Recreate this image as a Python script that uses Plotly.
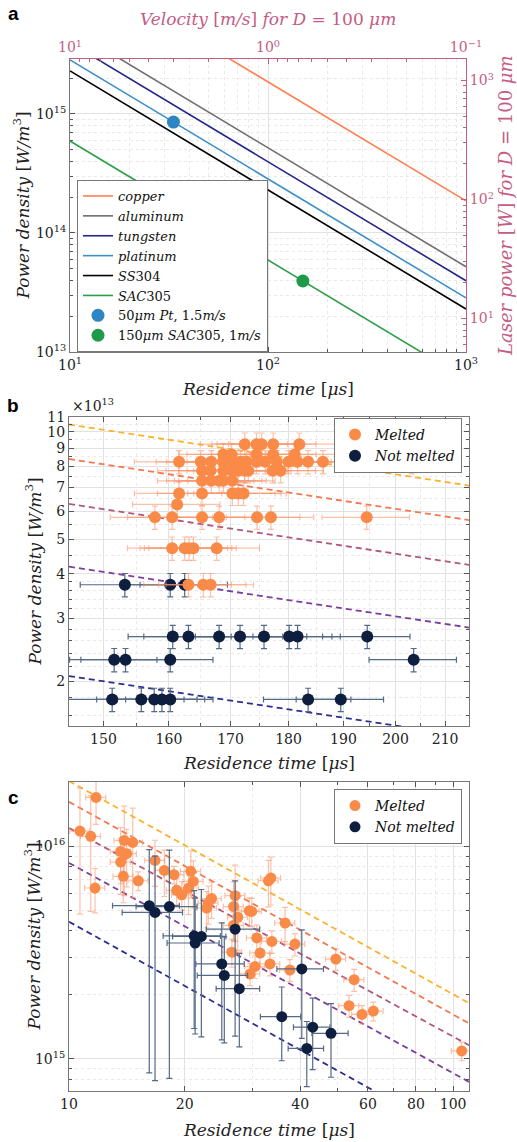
import plotly.graph_objects as go

W, H = 517, 1142

# ---------------- Panel a data ----------------
a_labels = ["<i>copper</i>", "<i>aluminum</i>", "<i>tungsten</i>", "<i>platinum</i>",
            "<i>SS</i>304", "<i>SAC</i>305"]
a_colors = ["#FF7F50", "#6E6E6E", "#25258C", "#3B8FCB", "#000000", "#2E9E4B"]
a_t_ends = [10, 1000]                      # residence time [us]
a_pd_copper = [1.86e16, 1.86e14]
a_pd_aluminum = [5.2e15, 5.2e13]
a_pd_tungsten = [3.97e15, 3.97e13]
a_pd_platinum = [2.85e15, 2.85e13]
a_pd_ss304 = [2.30e15, 2.30e13]
a_pd_sac305 = [5.93e14, 5.93e12]
a_pd_lines = [a_pd_copper, a_pd_aluminum, a_pd_tungsten, a_pd_platinum, a_pd_ss304, a_pd_sac305]
a_pt_t, a_pt_pd = [33.3], [8.55e14]
a_sac_t, a_sac_pd = [150], [3.95e13]

# ---------------- Panel b data ----------------
b_line_t = [145, 215]
b_line_pd = [[10.48e13, 7.07e13], [8.39e13, 5.66e13], [6.28e13, 4.24e13],
             [4.19e13, 2.83e13], [2.07e13, 1.40e13]]
line_colors = ["#FDB22C", "#F4784F", "#B0577D", "#7B3E9B", "#2B2F90"]

b_melt_t = [172.4, 174.4, 175.3, 177.3, 181.9,
            168.8, 170.2, 174.4, 177.3, 181.1,
            161.6, 165.1, 166.8, 168.7, 170.2, 171.7, 172.7, 174.4, 175.9, 177.9, 180.0, 181.6, 183.5, 186.2, 203.2,
            165.3, 166.7, 168.8, 170.2, 171.3, 172.4, 173.0, 177.2, 178.6,
            165.3, 166.8, 168.1, 168.8, 170.3,
            161.6, 165.3, 170.3, 171.3, 172.2,
            161.3,
            157.8, 160.5, 165.3, 168.1, 174.5, 176.9, 194.4,
            160.5, 162.5, 163.2, 163.9, 167.7,
            163.1, 165.5, 166.7]
b_melt_pd = [9.23e13] * 5 + [8.64e13] * 5 + [8.24e13] * 15 + [7.78e13] * 9 + [7.29e13] * 5 + \
            [6.72e13] * 5 + [6.26e13] + [5.76e13] * 7 + [4.72e13] * 5 + [3.73e13] * 3
b_not_t = [153.2, 160.2, 162.5,
           160.6, 163.1, 168.1, 171.6, 175.7, 180.1, 181.6, 194.5,
           151.6, 153.3, 160.2, 203.6,
           151.3, 155.7, 157.7, 158.9, 160.2, 183.5, 189.5]
b_not_pd = [3.73e13] * 3 + [2.67e13] * 8 + [2.30e13] * 4 + [1.78e13] * 7

# ---------------- Panel c data ----------------
c_line_t = [10, 110]
c_line_pd = [[2.03e16, 1.83e15], [1.62e16, 1.47e15], [1.22e16, 1.16e15],
             [8.36e15, 7.8e14], [4.42e15, 4.0e14]]

c_melt_t = [11.76, 10.68, 11.39, 11.69, 13.93, 14.65, 13.63, 14.13, 13.63, 16.75,
            13.85, 15.15, 17.71, 18.77, 20.76, 19.07, 19.66, 21.07, 20.47, 22.83,
            23.51, 23.05, 27.07, 26.82, 27.50, 29.48, 29.90, 26.82, 33.06, 33.54,
            36.52, 30.82, 33.74, 38.75, 26.55, 31.44, 30.49, 29.60, 33.37, 37.58,
            49.5, 55.25, 53.6, 57.9, 62.0, 105.3]
c_melt_pd = [1.70e16, 1.18e16, 1.115e16, 6.37e15, 1.067e16, 1.044e16, 9.47e15, 9.24e15, 8.44e15, 8.59e15,
             7.23e15, 6.89e15, 7.71e15, 7.36e15, 7.63e15, 6.21e15, 5.92e15, 6.84e15, 6.37e15, 5.13e15,
             5.68e15, 5.41e15, 5.86e15, 5.21e15, 4.64e15, 4.98e15, 4.94e15, 4.25e15, 6.89e15, 7.10e15,
             4.36e15, 3.71e15, 3.57e15, 3.47e15, 3.18e15, 3.15e15, 2.72e15, 2.51e15, 2.80e15, 2.62e15,
             2.95e15, 2.36e15, 1.78e15, 1.62e15, 1.68e15, 1.09e15]
c_melt_yerr = [4.3e15, 7.0e15, 6.2e15, 1.5e15, 4.8e15, 4.7e15, 2.8e15, 2.8e15, 2.5e15, 2.1e15,
               1.8e15, 0.7e15, 1.9e15, 0.7e15, 1.9e15, 0.9e15, 0.9e15, 1.7e15, 1.6e15, 1.0e15,
               1.1e15, 1.1e15, 2.3e15, 1.6e15, 1.4e15, 0.75e15, 0.75e15, 0.65e15, 1.7e15, 1.8e15,
               0.8e15, 0.55e15, 0.43e15, 0.42e15, 0.48e15, 0.47e15, 0.33e15, 0.3e15, 0.34e15, 0.31e15,
               0.35e15, 0.28e15, 0.21e15, 0.16e15, 0.17e15, 0.11e15]
c_not_t = [16.18, 16.75, 18.25, 21.18, 22.11, 21.30, 27.07, 24.99, 25.37, 27.76, 40.37, 35.8, 43.1, 48.1, 41.6]
c_not_pd = [5.26e15, 4.89e15, 5.21e15, 3.79e15, 3.77e15, 3.51e15, 4.08e15, 2.80e15, 2.47e15, 2.14e15,
            2.65e15, 1.58e15, 1.41e15, 1.32e15, 1.12e15]
c_not_xerr = [3.2, 3.0, 3.3, 3.6, 3.5, 3.3, 4.3, 3.6, 3.8, 3.6, 5.6, 4.3, 4.7, 5.2, 4.4]
c_not_yerr = [4.4e15, 4.1e15, 4.4e15, 2.4e15, 2.5e15, 2.2e15, 2.8e15, 1.57e15, 1.28e15, 1.0e15,
              1.4e15, 0.6e15, 0.52e15, 0.5e15, 0.38e15]

# ---------------- styling ----------------
PINK = "#C45C84"
ORANGE = "#FA8A48"
NAVY = "#0E1E3F"
SERIF = "DejaVu Serif"
GRID = "#E2E2E2"
MGRID = "#E9E9E9"


def dx(a, b):
    return [a / W, b / W]


def dy(top, bottom):
    return [1 - bottom / H, 1 - top / H]


fig = go.Figure()

# panel a
for lab, col, pdv in zip(a_labels, a_colors, a_pd_lines):
    fig.add_trace(go.Scatter(x=a_t_ends, y=pdv, mode="lines", name=lab,
                             line=dict(color=col, width=1.6), xaxis="x", yaxis="y",
                             legend="legend", hoverinfo="skip"))
fig.add_trace(go.Scatter(x=a_pt_t, y=a_pt_pd, mode="markers", name="50<i>μm Pt</i>, 1.5<i>m/s</i>",
                         marker=dict(color="#2D86C2", size=13), xaxis="x", yaxis="y", legend="legend"))
fig.add_trace(go.Scatter(x=a_sac_t, y=a_sac_pd, mode="markers", name="150<i>μm SAC</i>305, 1<i>m/s</i>",
                         marker=dict(color="#1F9A4A", size=13), xaxis="x", yaxis="y", legend="legend"))
fig.add_trace(go.Scatter(x=[1, 0.5], y=[10, 20], mode="markers", marker=dict(opacity=0),
                         showlegend=False, hoverinfo="skip", xaxis="x2", yaxis="y2"))

# panel b
for col, pdv in zip(line_colors, b_line_pd):
    fig.add_trace(go.Scatter(x=b_line_t, y=pdv, mode="lines", showlegend=False, hoverinfo="skip",
                             line=dict(color=col, width=1.8, dash="6px,4px"), xaxis="x3", yaxis="y3"))
fig.add_trace(go.Scatter(x=b_not_t, y=b_not_pd, mode="markers", name="<i>Not melted</i>",
                         marker=dict(color=NAVY, size=12),
                         error_x=dict(type="percent", value=4.3, color="#556A85", thickness=1.2, width=3),
                         error_y=dict(type="percent", value=7.5, color="#556A85", thickness=1.2, width=3),
                         xaxis="x3", yaxis="y3", legend="legend2", legendrank=2))
fig.add_trace(go.Scatter(x=b_melt_t, y=b_melt_pd, mode="markers", name="<i>Melted</i>",
                         marker=dict(color=ORANGE, size=12),
                         error_x=dict(type="percent", value=4.3, color="rgba(250,150,110,0.6)", thickness=1.2, width=3),
                         error_y=dict(type="percent", value=7.5, color="rgba(250,150,110,0.6)", thickness=1.2, width=3),
                         xaxis="x3", yaxis="y3", legend="legend2", legendrank=1))

# panel c
for col, pdv in zip(line_colors, c_line_pd):
    fig.add_trace(go.Scatter(x=c_line_t, y=pdv, mode="lines", showlegend=False, hoverinfo="skip",
                             line=dict(color=col, width=1.8, dash="6px,4px"), xaxis="x4", yaxis="y4"))
fig.add_trace(go.Scatter(x=c_melt_t, y=c_melt_pd, mode="markers", name="<i>Melted</i>",
                         marker=dict(color=ORANGE, size=11),
                         error_x=dict(type="percent", value=6, color="rgba(250,150,110,0.6)", thickness=1.2, width=3),
                         error_y=dict(type="data", array=c_melt_yerr, color="rgba(250,150,110,0.6)", thickness=1.2, width=3),
                         xaxis="x4", yaxis="y4", legend="legend3", legendrank=1))
fig.add_trace(go.Scatter(x=c_not_t, y=c_not_pd, mode="markers", name="<i>Not melted</i>",
                         marker=dict(color=NAVY, size=11),
                         error_x=dict(type="data", array=c_not_xerr, color="#556A85", thickness=1.2, width=3),
                         error_y=dict(type="data", array=c_not_yerr, color="#556A85", thickness=1.2, width=3),
                         xaxis="x4", yaxis="y4", legend="legend3", legendrank=2))


def sup(e):
    return "10<sup>%s</sup>" % e


tickfont = dict(family=SERIF, size=14, color="#222")
pinkfont = dict(family=SERIF, size=14, color=PINK)
common = dict(ticks="inside", ticklen=5, tickwidth=1, tickcolor="#555", showline=True,
              linecolor="#777", linewidth=1, showgrid=True, gridcolor=GRID, gridwidth=1,
              zeroline=False, tickfont=tickfont, automargin=False)

fig.update_layout(
    width=W, height=H, margin=dict(l=0, r=0, t=0, b=0),
    paper_bgcolor="white", plot_bgcolor="white", template="none",
    font=dict(family=SERIF, size=14, color="#222"),
    xaxis=dict(domain=dx(70, 466), anchor="y", type="log", range=[1, 3],
               tickmode="array", tickvals=[10, 100, 1000], ticktext=[sup(1), sup(2), sup(3)],
               minor=dict(tickmode="array", tickvals=[20, 30, 40, 50, 60, 70, 80, 90, 200, 300, 400, 500, 600, 700, 800, 900],
                          ticks="inside", ticklen=3, tickcolor="#555", showgrid=True, gridcolor=MGRID, griddash="dot"),
               **common),
    xaxis2=dict(overlaying="x", anchor="y", side="top", type="log", range=[1, -1],
                tickmode="array", tickvals=[10, 1, 0.1], ticktext=[sup(1), sup(0), sup("−1")],
                ticks="inside", ticklen=5, tickcolor=PINK, showline=True, linecolor=PINK, showgrid=False,
                zeroline=False, tickfont=pinkfont, automargin=False,
                minor=dict(tickmode="array", tickvals=[9, 8, 7, 6, 5, 4, 3, 2, 0.9, 0.8, 0.7, 0.6, 0.5, 0.4, 0.3, 0.2],
                           ticks="inside", ticklen=3, tickcolor=PINK, showgrid=False)),
    yaxis=dict(domain=dy(59, 352), anchor="x", type="log", range=[13, 15.462],
               tickmode="array", tickvals=[1e13, 1e14, 1e15], ticktext=[sup(13), sup(14), sup(15)],
               minor=dict(tickmode="array",
                          tickvals=[2e13, 3e13, 4e13, 5e13, 6e13, 7e13, 8e13, 9e13, 2e14, 3e14, 4e14, 5e14, 6e14, 7e14, 8e14, 9e14, 2e15],
                          ticks="inside", ticklen=3, tickcolor="#555", showgrid=True, gridcolor=MGRID, griddash="dot"),
               **common),
    yaxis2=dict(overlaying="y", anchor="x", side="right", type="log", range=[0.719, 3.181],
                tickmode="array", tickvals=[10, 100, 1000], ticktext=[sup(1), sup(2), sup(3)],
                ticks="inside", ticklen=5, tickcolor=PINK, showline=True, linecolor=PINK, showgrid=False,
                zeroline=False, tickfont=pinkfont, automargin=False,
                minor=dict(tickmode="array", tickvals=[6, 7, 8, 9, 20, 30, 40, 50, 60, 70, 80, 90, 200, 300, 400, 500, 600, 700, 800, 900],
                           ticks="inside", ticklen=3, tickcolor=PINK, showgrid=False)),
    xaxis3=dict(domain=dx(69, 469), anchor="y3", type="log", range=[2.16137, 2.33244],
                tickmode="array", tickvals=[150, 160, 170, 180, 190, 200, 210],
                ticktext=["150", "160", "170", "180", "190", "200", "210"], mirror="ticks",
                minor=dict(tickmode="array", tickvals=[145, 155, 165, 175, 185, 195, 205],
                           ticks="inside", ticklen=3, tickcolor="#555", showgrid=True, gridcolor=MGRID, griddash="dot"),
                **common),
    yaxis3=dict(domain=dy(417, 726), anchor="x3", type="log", range=[13.1761, 14.0414],
                tickmode="array", tickvals=[k * 1e13 for k in [2, 3, 4, 5, 6, 7, 8, 9, 10, 11]],
                ticktext=["2", "3", "4", "5", "6", "7", "8", "9", "10", "11"], mirror="ticks",
                minor=dict(tickmode="array",
                           tickvals=[1.6e13, 1.8e13, 2.2e13, 2.4e13, 2.6e13, 2.8e13, 3.2e13, 3.4e13, 3.6e13, 3.8e13,
                                     4.5e13, 5.5e13, 6.5e13, 7.5e13, 8.5e13, 9.5e13, 10.5e13],
                           ticks="inside", ticklen=3, tickcolor="#555", showgrid=True, gridcolor=MGRID, griddash="dot"),
                **common),
    xaxis4=dict(domain=dx(69, 469), anchor="y4", type="log", range=[1, 2.0414],
                tickmode="array", tickvals=[10, 20, 40, 60, 80, 100],
                ticktext=["10", "20", "40", "60", "80", "100"], mirror="ticks",
                minor=dict(tickmode="array", tickvals=[30, 50, 70, 90],
                           ticks="inside", ticklen=3, tickcolor="#555", showgrid=True, gridcolor=MGRID, griddash="dot"),
                **common),
    yaxis4=dict(domain=dy(782, 1091), anchor="x4", type="log", range=[14.849, 16.303],
                tickmode="array", tickvals=[1e15, 1e16], ticktext=[sup(15), sup(16)], mirror="ticks",
                minor=dict(tickmode="array",
                           tickvals=[8e14, 9e14, 2e15, 3e15, 4e15, 5e15, 6e15, 7e15, 8e15, 9e15, 2e16],
                           ticks="inside", ticklen=3, tickcolor="#555", showgrid=True, gridcolor=MGRID, griddash="dot"),
                **common),
    legend=dict(x=77 / W, y=1 - 352 / H, xanchor="left", yanchor="bottom", bgcolor="white",
                bordercolor="#777", borderwidth=1, font=dict(family=SERIF, size=13, color="#111"),
                tracegroupgap=0, itemwidth=30),
    legend2=dict(x=462 / W, y=1 - 418 / H, xanchor="right", yanchor="top", bgcolor="white",
                 bordercolor="#777", borderwidth=1, font=dict(family=SERIF, size=14, color="#111")),
    legend3=dict(x=462 / W, y=1 - 789 / H, xanchor="right", yanchor="top", bgcolor="white",
                 bordercolor="#777", borderwidth=1, font=dict(family=SERIF, size=14, color="#111")),
    showlegend=True,
)

ann = []
# panel letters
for txt, yy in [("a", 13), ("b", 405), ("c", 797)]:
    ann.append(dict(text="<b>%s</b>" % txt, x=13 / W, y=1 - yy / H, xref="paper", yref="paper",
                    showarrow=False, xanchor="center", yanchor="middle",
                    font=dict(family="Liberation Sans", size=19, color="#000")))
title_font = dict(family=SERIF, size=17, color="#222")
ptitle_font = dict(family=SERIF, size=17, color=PINK)
# x titles
for yy, x0, x1 in [(389, 70, 466), (763, 69, 469), (1130, 69, 469)]:
    ann.append(dict(text="<i>Residence time</i> [<i>μs</i>]", x=(x0 + x1) / 2 / W, y=1 - yy / H,
                    xref="paper", yref="paper", showarrow=False, xanchor="center", yanchor="middle",
                    font=title_font))
# y titles
for xx, yc in [(22, 205.5), (33, 571.5), (33, 936.5)]:
    ann.append(dict(text="<i>Power density</i> [<i>W/m</i><sup>3</sup>]", x=xx / W, y=1 - yc / H,
                    xref="paper", yref="paper", showarrow=False, xanchor="center", yanchor="middle",
                    textangle=-90, font=title_font))
ann.append(dict(text="<i>Velocity</i> [<i>m/s</i>] <i>for D</i> = 100 <i>μm</i>", x=268 / W, y=1 - 19 / H,
                xref="paper", yref="paper", showarrow=False, xanchor="center", yanchor="middle",
                font=ptitle_font))
ann.append(dict(text="<i>Laser power</i> [<i>W</i>] <i>for D</i> = 100 <i>μm</i>", x=506 / W, y=1 - 206 / H,
                xref="paper", yref="paper", showarrow=False, xanchor="center", yanchor="middle",
                textangle=-90, font=dict(family=SERIF, size=18, color=PINK)))
ann.append(dict(text="×10<sup>13</sup>", x=70 / W, y=1 - 405 / H, xref="paper", yref="paper",
                showarrow=False, xanchor="left", yanchor="middle", font=dict(family=SERIF, size=14, color="#222")))
fig.update_layout(annotations=ann)

fig.write_html("out.html")
